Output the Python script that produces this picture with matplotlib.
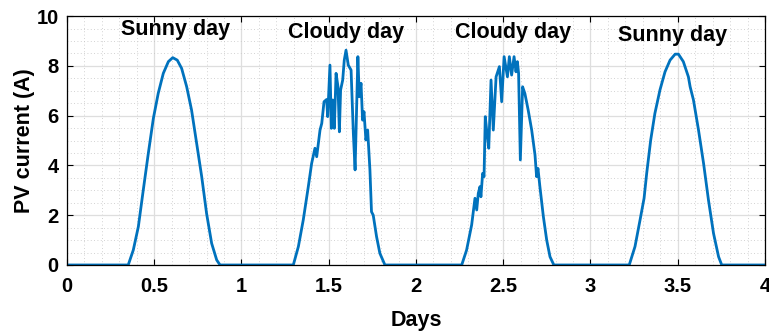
import matplotlib
matplotlib.use("Agg")
import matplotlib.pyplot as plt
from matplotlib.ticker import MultipleLocator

plt.rcParams["font.family"] = ["Liberation Sans", "DejaVu Sans"]
plt.rcParams["font.weight"] = "bold"

# PV current, one hump per day
days = [0.0, 0.351, 0.380, 0.409, 0.437, 0.466, 0.495, 0.523, 0.552, 0.581, 0.606, 0.632, 0.657,
        0.686, 0.714, 0.743, 0.772, 0.800, 0.829, 0.858, 0.877,
        1.297, 1.326, 1.354, 1.383, 1.402, 1.421, 1.431, 1.450, 1.460, 1.473, 1.488, 1.494, 1.507,
        1.515, 1.523, 1.532, 1.542, 1.553, 1.561, 1.568, 1.580, 1.589, 1.599, 1.612, 1.628, 1.641,
        1.651, 1.667, 1.675, 1.685, 1.694, 1.702, 1.713, 1.723, 1.736, 1.745, 1.755, 1.774, 1.793,
        1.822,
        2.262, 2.290, 2.319, 2.338, 2.348, 2.357, 2.367, 2.372, 2.382, 2.390, 2.397, 2.405, 2.417,
        2.430, 2.443, 2.459, 2.478, 2.491, 2.505, 2.524, 2.535, 2.548, 2.562, 2.573, 2.581, 2.588,
        2.598, 2.611, 2.624, 2.643, 2.663, 2.682, 2.691, 2.699, 2.710, 2.730, 2.749, 2.768, 2.790,
        3.222, 3.255, 3.284, 3.307, 3.322, 3.345, 3.369, 3.398, 3.427, 3.456, 3.485, 3.504, 3.532,
        3.561, 3.571, 3.590, 3.619, 3.648, 3.676, 3.705, 3.734, 3.752, 4.0]
current = [0.0, 0.0, 0.60, 1.54, 3.00, 4.48, 5.89, 6.90, 7.70, 8.17, 8.33, 8.23, 7.90,
           7.16, 6.22, 4.89, 3.55, 2.07, 0.87, 0.20, 0.0,
           0.0, 0.74, 1.81, 3.15, 4.08, 4.69, 4.35, 5.42, 5.69, 6.56, 6.65, 5.96, 8.03,
           5.49, 6.63, 5.49, 7.70, 7.16, 5.35, 7.03, 7.43, 8.23, 8.63, 8.03, 7.83, 5.29,
           3.82, 8.37, 6.76, 7.30, 5.82, 6.16, 5.02, 5.42, 3.82, 2.14, 2.00, 1.14, 0.47,
           0.0,
           0.0, 0.60, 1.61, 2.68, 2.21, 2.88, 3.15, 2.74, 3.68, 3.55, 5.96, 5.42, 4.69,
           7.43, 5.42, 7.56, 7.97, 6.56, 8.37, 7.56, 8.37, 7.63, 8.37, 7.76, 8.17, 7.70,
           4.22, 7.16, 6.89, 6.22, 5.42, 4.42, 3.55, 3.88, 3.15, 1.94, 1.00, 0.33, 0.0,
           0.0, 0.74, 1.81, 2.68, 3.68, 5.02, 6.09, 7.03, 7.76, 8.23, 8.47, 8.47, 8.17,
           7.56, 7.16, 6.63, 5.42, 4.08, 2.61, 1.27, 0.33, 0.0, 0.0]

labels = ["Sunny day", "Cloudy day", "Cloudy day", "Sunny day"]
label_x = [0.625, 1.60, 2.556, 3.47]
label_y = [9.45, 9.35, 9.35, 9.2]

fig = plt.figure(figsize=(7.69, 3.35), dpi=100)
ax = fig.add_axes([0.0871, 0.209, 0.9077, 0.743])

ax.plot(days, current, color="#0072BD", lw=2.0)

for txt, x, y in zip(labels, label_x, label_y):
  ax.text(x, y, txt, ha="center", va="center", fontsize=15.5, fontweight="bold")

ax.set_xlim(0, 4)
ax.set_ylim(0, 10)
ax.xaxis.set_major_locator(MultipleLocator(0.5))
ax.xaxis.set_minor_locator(MultipleLocator(0.1))
ax.yaxis.set_major_locator(MultipleLocator(2))
ax.yaxis.set_minor_locator(MultipleLocator(0.5))
ax.xaxis.set_major_formatter(plt.FuncFormatter(lambda v, p: f"{v:g}"))

ax.grid(which="major", color="#dedede", lw=0.9)
ax.grid(which="minor", color="#c4c4c4", lw=0.6, ls=(0, (1, 3)))
ax.set_axisbelow(True)

ax.tick_params(which="major", direction="in", top=True, right=True, length=4, width=0.8,
               labelsize=14.5, pad=6)
ax.tick_params(axis="x", which="major", pad=9)
ax.tick_params(which="minor", length=0)
for lab in ax.get_xticklabels() + ax.get_yticklabels():
  lab.set_fontweight("bold")
for sp in ax.spines.values():
  sp.set_linewidth(0.9)

ax.set_xlabel("Days", fontsize=15.5, fontweight="bold", labelpad=10)
ax.set_ylabel("PV current (A)", fontsize=15.5, fontweight="bold", labelpad=1)

fig.savefig("out.png", dpi=100)
